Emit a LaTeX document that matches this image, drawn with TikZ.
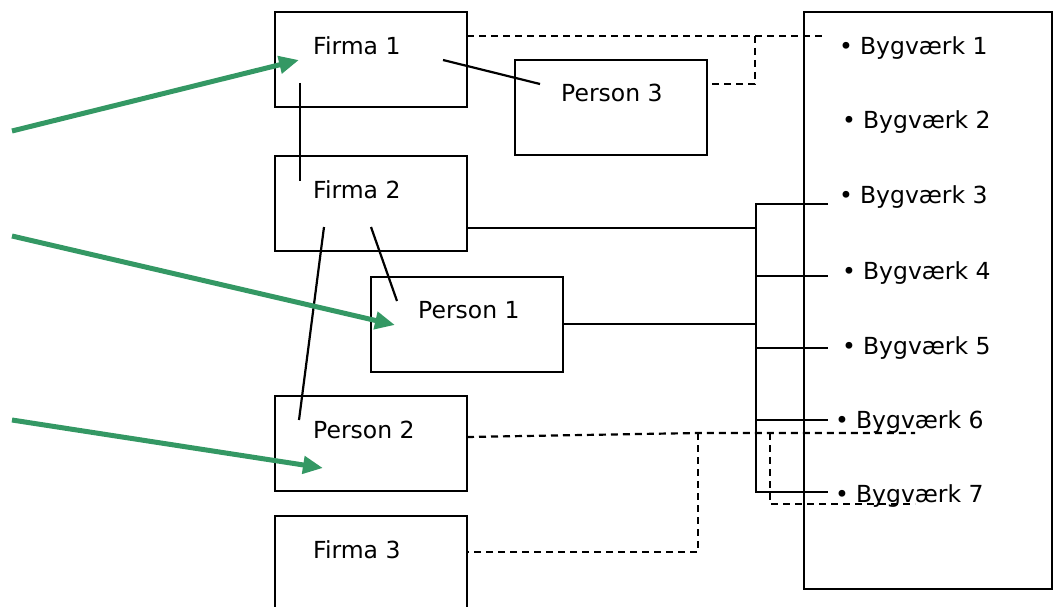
\documentclass[tikz,border=0pt]{standalone}
\usepackage{fontspec}
\setmainfont{DejaVu Sans}
\usetikzlibrary{arrows.meta}
\definecolor{arrgreen}{RGB}{52,152,100}
\begin{document}
\begin{tikzpicture}[x=1pt,y=-1pt,
  box/.style={draw,line width=2.2pt,inner sep=0pt,outer sep=0pt,anchor=north west,minimum width=192pt,minimum height=95pt},
  lbl/.style={anchor=base west,inner sep=0pt,font=\fontsize{23.5}{28}\selectfont},
  conn/.style={line width=2.2pt},
  dsh/.style={line width=2.2pt,dash pattern=on 7pt off 5pt},
  garrow/.style={draw=arrgreen,line width=5pt,-{Triangle[length=20pt,width=17pt]}}]
\useasboundingbox (0,0) rectangle (1055,607);
\clip (0,0) rectangle (1055,607);
% boxes
\node[box] (f1) at (275,12) {};
\node[box] (p3) at (515,60) {};
\node[box] (f2) at (275,156) {};
\node[box] (p1) at (371,277) {};
\node[box] (p2) at (275,396) {};
\node[box,minimum height=110pt] (f3) at (275,516) {};
\node[box,minimum width=248pt,minimum height=577pt] (bv) at (804,12) {};
% labels
\node[lbl] (f1t) at (313,55) {Firma 1};
\node[lbl] (p3t) at (561,102) {Person 3};
\node[lbl] (f2t) at (313,198) {Firma 2};
\node[lbl] (p1t) at (418,318) {Person 1};
\node[lbl] (p2t) at (313,438) {Person 2};
\node[lbl] (f3t) at (313,558) {Firma 3};
\node[lbl] (b1) at (839,55) {•\kern7pt Bygværk 1};
\node[lbl] (b2) at (842,129) {•\kern7pt Bygværk 2};
\node[lbl] (b3) at (839,204) {•\kern7pt Bygværk 3};
\node[lbl] (b4) at (842,279) {•\kern7pt Bygværk 4};
\node[lbl] (b5) at (842,354) {•\kern7pt Bygværk 5};
\node[lbl] (b6) at (835,428) {•\kern7pt Bygværk 6};
\node[lbl] (b7) at (835,502) {•\kern7pt Bygværk 7};
% coordinates
\coordinate (f1a) at (443,60);
\coordinate (p3a) at (540,84);
\coordinate (f1b) at (300,83);
\coordinate (f2a) at (300,181);
\coordinate (f2b) at (324,227);
\coordinate (p2a) at (299,420);
\coordinate (f2c) at (371,227);
\coordinate (p1a) at (397,301);
\coordinate (t1) at (12,131);
\coordinate (h1) at (299,60);
\coordinate (t2) at (12,236);
\coordinate (h2) at (395,325);
\coordinate (t3) at (12,420);
\coordinate (h3) at (323,468);
\coordinate (f1r) at (467,36);
\coordinate (d1e) at (826,36);
\coordinate (d1k) at (755,36);
\coordinate (p3r) at (708,84);
\coordinate (f2r) at (467,228);
\coordinate (p1r) at (564,324);
\coordinate (bus1) at (756,204);
\coordinate (bus2) at (756,276);
\coordinate (bus3) at (756,348);
\coordinate (bus4) at (756,420);
\coordinate (bus5) at (756,492);
\coordinate (e3) at (828,204);
\coordinate (e4) at (828,276);
\coordinate (e5) at (828,348);
\coordinate (e6) at (828,420);
\coordinate (e7) at (828,492);
\coordinate (p2r) at (467,437);
\coordinate (k1) at (698,433);
\coordinate (k2) at (915,433);
\coordinate (f3r) at (467,552);
\coordinate (k3) at (770,433);
\coordinate (k4) at (915,504);
% solid connectors
\draw[conn] (f1a) -- (p3a);
\draw[conn] (f1b) -- (f2a);
\draw[conn] (f2b) -- (p2a);
\draw[conn] (f2c) -- (p1a);
\draw[conn] (f2r) -- (f2r -| bus1);
\draw[conn] (p1r) -- (p1r -| bus1);
\draw[conn] (e3) -- (bus1) -- (bus5) -- (e7);
\draw[conn] (bus2) -- (e4);
\draw[conn] (bus3) -- (e5);
\draw[conn] (bus4) -- (e6);
% dashed connectors
\draw[dsh] (f1r) -- (d1e);
\draw[dsh] (d1k) -- (d1k |- p3r) -- (p3r);
\draw[dsh] (p2r) -- (k1) -- (k2);
\draw[dsh] (k1) -- (k1 |- f3r) -- (f3r);
\draw[dsh] (k3) -- (k3 |- k4) -- (k4);
% green arrows
\draw[garrow] (t1) -- (h1);
\draw[garrow] (t2) -- (h2);
\draw[garrow] (t3) -- (h3);
\end{tikzpicture}
\end{document}
